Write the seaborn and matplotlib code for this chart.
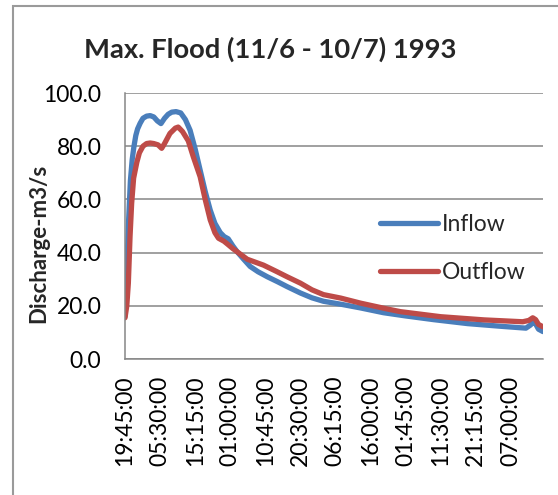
import matplotlib
matplotlib.use("Agg")
import matplotlib.pyplot as plt
from matplotlib.patches import Rectangle
import numpy as np
import pandas as pd
import seaborn as sns

# Hours elapsed since the 19:45:00 reading (15-minute logger)
inflow_hours = [0.0, 0.5, 1.0, 1.5, 2.0, 2.5, 3.0, 3.5, 4.2, 5.0, 6.0, 7.0, 8.0, 9.0,
                10.0, 11.0, 12.0, 13.0, 14.2, 15.5, 16.8, 18.1, 19.5, 20.9, 22.3, 23.7,
                25.0, 26.5, 27.6, 28.7, 30.0, 31.2, 33.0, 34.8, 37.0, 39.6, 42.5, 45.1,
                48.8, 52.0, 55.2, 60.0, 65.5, 71.9, 78.0, 85.8, 95.3, 104.5, 111.5,
                112.8, 113.4, 114.2, 115.0, 116.25]
inflow_values = [16.0, 34.0, 52.0, 67.0, 75.0, 80.0, 84.0, 86.5, 88.6, 90.5, 91.3, 91.5,
                 91.0, 89.5, 88.5, 90.5, 92.0, 92.8, 93.0, 92.5, 90.0, 86.0, 79.0, 71.0,
                 63.0, 56.0, 51.0, 47.5, 46.0, 45.2, 42.5, 40.3, 37.5, 34.8, 32.8, 30.9,
                 29.0, 27.2, 24.8, 23.0, 21.7, 20.6, 19.2, 17.4, 16.2, 14.8, 13.3, 12.3,
                 11.6, 12.8, 14.0, 13.2, 11.2, 10.3]

outflow_hours = [0.0, 0.5, 0.93, 1.4, 1.85, 2.4, 3.3, 4.0, 5.0, 6.0, 7.0, 8.0, 9.2, 10.2,
                 11.0, 12.5, 14.0, 14.8, 16.0, 17.6, 19.0, 20.9, 22.3, 23.7, 25.0, 26.0,
                 27.5, 28.5, 30.0, 31.2, 34.0, 38.5, 42.0, 45.1, 48.8, 52.0, 55.2, 60.0,
                 65.5, 72.6, 76.6, 87.8, 99.9, 110.6, 112.3, 113.4, 114.2, 115.0, 116.25]
outflow_values = [15.5, 20.0, 28.5, 46.0, 58.5, 68.0, 74.0, 77.5, 80.0, 81.0, 81.2, 81.0,
                  80.5, 79.2, 81.0, 84.8, 86.8, 87.2, 85.5, 82.0, 76.0, 68.5, 60.0, 52.3,
                  47.5, 45.4, 44.3, 43.2, 41.5, 40.3, 37.5, 35.3, 33.0, 30.9, 28.5, 26.0,
                  24.2, 22.9, 21.0, 18.9, 17.8, 15.9, 14.7, 14.0, 14.5, 15.5, 14.8, 13.0,
                  12.1]

tick_labels = ["19:45:00", "05:30:00", "15:15:00", "01:00:00", "10:45:00", "20:30:00",
               "06:15:00", "16:00:00", "01:45:00", "11:30:00", "21:15:00", "07:00:00"]
tick_step_hours = 9.75
series_names = ["Inflow", "Outflow"]
series_colors = ["#4A7EBB", "#BE4B48"]
y_ticks = [0, 20, 40, 60, 80, 100]

df = pd.concat([
    pd.DataFrame({"hours": inflow_hours, "Discharge": inflow_values, "series": "Inflow"}),
    pd.DataFrame({"hours": outflow_hours, "Discharge": outflow_values, "series": "Outflow"}),
], ignore_index=True)

sns.set_style("white")
plt.rcParams["font.family"] = ["Lato", "DejaVu Sans"]

fig = plt.figure(figsize=(5.58, 4.95), dpi=100)
ax = fig.add_axes([125 / 558, 1 - 359 / 495, 418 / 558, 266 / 495])

sns.lineplot(data=df, x="hours", y="Discharge", hue="series", hue_order=series_names,
             palette=series_colors, estimator=None, sort=False, linewidth=3.8, ax=ax)

grid_color = "#868686"
ax.set_xlim(0, 116.25)
ax.set_ylim(0, 100)
ax.set_yticks(y_ticks)
ax.set_yticklabels([f"{v:.1f}" for v in y_ticks])
ax.set_xticks([i * tick_step_hours for i in range(len(tick_labels))])
ax.set_xticklabels(tick_labels, rotation=90)
ax.tick_params(axis="both", length=0, labelsize=16.5, colors="black")
ax.tick_params(axis="y", pad=17)
ax.tick_params(axis="x", pad=12)
ax.set_xlabel("")
ax.set_ylabel("")
ax.yaxis.grid(True, color=grid_color, linewidth=1.1)
ax.set_axisbelow(True)
for side in ["top", "right"]:
    ax.spines[side].set_visible(False)
for side in ["left", "bottom"]:
    ax.spines[side].set_color(grid_color)
    ax.spines[side].set_linewidth(1.1)

handles, labels = ax.get_legend_handles_labels()
leg = ax.legend(handles, labels, loc="upper left", bbox_to_anchor=(369 / 558, 1 - 203 / 495),
                bbox_transform=fig.transFigure, frameon=False, fontsize=16.5,
                handlelength=2.5, handletextpad=0.2, labelspacing=1.15, borderpad=0)
for line in leg.get_lines():
    line.set_linewidth(3.8)

fig.text(270 / 558, 1 - 58 / 495, "Max. Flood (11/6 - 10/7) 1993", ha="center",
         va="baseline", fontsize=19.7, fontweight="bold")
fig.text(39 / 558, 1 - 243 / 495, "Discharge-m3/s", ha="center", va="center",
         rotation=90, fontsize=16, fontweight="bold")

fig.add_artist(Rectangle((13 / 558, -0.1), 1.2, 1.1 - 6 / 495, transform=fig.transFigure,
                         fill=False, edgecolor="#9a9a9a", linewidth=1.5))

fig.savefig("out.png", dpi=100)
